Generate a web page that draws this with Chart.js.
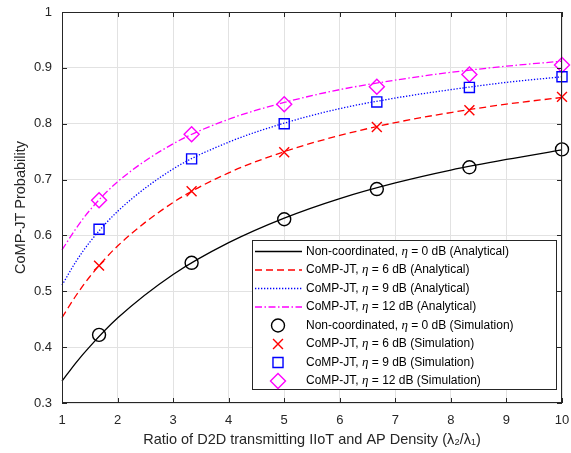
<!DOCTYPE html>
<html>
<head>
<meta charset="utf-8">
<script src="https://cdn.jsdelivr.net/npm/chart.js@4.4.1/dist/chart.umd.min.js"></script>
<style>
  html, body { margin: 0; padding: 0; background: #fff; }
  #wrap { width: 571px; height: 453px; }
</style>
</head>
<body>
<div id="wrap"><canvas id="probChart" width="571" height="453"></canvas></div>
<script>
const ratioAnalytical = [1, 1.25, 1.5, 2, 3, 4, 5, 6, 7, 8, 9, 10];
const nonCoordAnalytical = [0.339, 0.372, 0.401, 0.452, 0.530, 0.587, 0.631, 0.666, 0.694, 0.717, 0.736, 0.753];
const comp6Analytical = [0.453, 0.492, 0.526, 0.581, 0.659, 0.712, 0.750, 0.779, 0.802, 0.820, 0.835, 0.847];
const comp9Analytical = [0.511, 0.553, 0.588, 0.643, 0.719, 0.767, 0.801, 0.827, 0.846, 0.861, 0.874, 0.884];
const comp12Analytical = [0.574, 0.612, 0.645, 0.696, 0.764, 0.808, 0.838, 0.861, 0.878, 0.892, 0.903, 0.912];

// simulation points
const ratioSim = [1.667, 3.333, 5, 6.667, 8.333, 10];
const nonCoordSim = [0.422, 0.551, 0.629, 0.683, 0.722, 0.754];
const comp6Sim = [0.546, 0.679, 0.749, 0.794, 0.824, 0.848];
const comp9Sim = [0.611, 0.737, 0.800, 0.839, 0.865, 0.884];
const comp12Sim = [0.663, 0.781, 0.835, 0.866, 0.888, 0.905];

const xTicks = [1, 2, 3, 4, 5, 6, 7, 8, 9, 10];
const xTickLabels = ['1', '2', '3', '4', '5', '6', '7', '8', '9', '10'];
const yTicks = [0.3, 0.4, 0.5, 0.6, 0.7, 0.8, 0.9, 1];
const yTickLabels = ['0.3', '0.4', '0.5', '0.6', '0.7', '0.8', '0.9', '1'];

// legend text split around the italic eta
const legendLabels = [
    ['Non-coordinated, ', ' = 0 dB (Analytical)'],
    ['CoMP-JT, ', ' = 6 dB (Analytical)'],
    ['CoMP-JT, ', ' = 9 dB (Analytical)'],
    ['CoMP-JT, ', ' = 12 dB (Analytical)'],
    ['Non-coordinated, ', ' = 0 dB (Simulation)'],
    ['CoMP-JT, ', ' = 6 dB (Simulation)'],
    ['CoMP-JT, ', ' = 9 dB (Simulation)'],
    ['CoMP-JT, ', ' = 12 dB (Simulation)']
];

const FONT = '"Liberation Sans", Arial, Helvetica, sans-serif';
const AXIS = '#262626';

function pts(xs, ys) {
    return xs.map((x, i) => ({ x: x, y: ys[i] }));
}

function curve(values, color, dash) {
    return {
        showLine: true,
        data: pts(ratioAnalytical, values),
        borderColor: color,
        borderWidth: 1.3,
        borderDash: dash,
        pointRadius: 0,
        cubicInterpolationMode: 'monotone',
        fill: false,
        clip: false
    };
}

function markers(values, color, style, radius) {
    return {
        showLine: false,
        data: pts(ratioSim, values),
        borderColor: color,
        backgroundColor: 'rgba(0,0,0,0)',
        pointStyle: style,
        pointRadius: radius,
        pointBorderWidth: 1.4,
        pointBorderColor: color,
        pointBackgroundColor: 'rgba(0,0,0,0)',
        clip: false
    };
}

// box with inward ticks (matlab style) plus the legend inside the plot
const frameAndLegend = {
    id: 'frameAndLegend',
    afterDraw(chart) {
        const { ctx, chartArea: a, scales } = chart;
        const xs = scales.x, ys = scales.y;
        ctx.save();
        ctx.strokeStyle = AXIS;
        ctx.lineWidth = 1;
        ctx.setLineDash([]);
        ctx.strokeRect(a.left + 0.5, a.top + 0.5, a.right - a.left - 1, a.bottom - a.top - 1);
        ctx.beginPath();
        xTicks.forEach(v => {
            const px = Math.round(xs.getPixelForValue(v)) + 0.5;
            ctx.moveTo(px, a.bottom); ctx.lineTo(px, a.bottom - 5);
            ctx.moveTo(px, a.top); ctx.lineTo(px, a.top + 5);
        });
        yTicks.forEach(v => {
            const py = Math.round(ys.getPixelForValue(v)) + 0.5;
            ctx.moveTo(a.left, py); ctx.lineTo(a.left + 5, py);
            ctx.moveTo(a.right, py); ctx.lineTo(a.right - 5, py);
        });
        ctx.stroke();

        // legend
        const box = { left: a.left + 190, top: a.bottom - 163, right: a.right - 6, bottom: a.bottom - 14 };
        ctx.fillStyle = '#fff';
        ctx.fillRect(box.left, box.top, box.right - box.left, box.bottom - box.top);
        ctx.strokeStyle = AXIS;
        ctx.strokeRect(box.left + 0.5, box.top + 0.5, box.right - box.left, box.bottom - box.top);

        const sets = chart.data.datasets;
        legendLabels.forEach((parts, i) => {
            const cy = box.top + 11.5 + i * 18.5;
            const ds = sets[i];
            ctx.save();
            if (i < 4) {
                ctx.strokeStyle = ds.borderColor;
                ctx.lineWidth = ds.borderWidth;
                ctx.setLineDash(ds.borderDash || []);
                ctx.beginPath();
                ctx.moveTo(box.left + 3, cy);
                ctx.lineTo(box.left + 50, cy);
                ctx.stroke();
            } else {
                ctx.strokeStyle = ds.pointBorderColor;
                ctx.fillStyle = 'rgba(0,0,0,0)';
                ctx.lineWidth = ds.pointBorderWidth;
                Chart.helpers.drawPoint(ctx, {
                    pointStyle: ds.pointStyle,
                    radius: ds.pointRadius,
                    rotation: 0,
                    borderWidth: ds.pointBorderWidth
                }, box.left + 26, cy);
            }
            ctx.restore();

            let tx = box.left + 54;
            ctx.fillStyle = '#000';
            ctx.textBaseline = 'middle';
            ctx.textAlign = 'left';
            ctx.font = '12px ' + FONT;
            ctx.fillText(parts[0], tx, cy);
            tx += ctx.measureText(parts[0]).width;
            ctx.font = 'italic 13px "Liberation Serif", serif';
            ctx.fillText('\u03b7', tx, cy);
            tx += ctx.measureText('\u03b7').width;
            ctx.font = '12px ' + FONT;
            ctx.fillText(parts[1], tx, cy);
        });
        ctx.restore();
    }
};

const ctx = document.getElementById('probChart').getContext('2d');
new Chart(ctx, {
    type: 'scatter',
    data: {
        datasets: [
            curve(nonCoordAnalytical, '#000000', []),
            curve(comp6Analytical, '#ff0000', [7, 4]),
            curve(comp9Analytical, '#0000ff', [1.3, 1.7]),
            curve(comp12Analytical, '#ff00ff', [7, 2.5, 1.5, 2.5]),
            markers(nonCoordSim, '#000000', 'circle', 6.5),
            markers(comp6Sim, '#ff0000', 'crossRot', 7),
            markers(comp9Sim, '#0000ff', 'rect', 7.1),
            markers(comp12Sim, '#ff00ff', 'rectRot', 7.5)
        ]
    },
    options: {
        responsive: false,
        animation: false,
        layout: { padding: { top: 12, right: 9, left: 0, bottom: 0 } },
        plugins: {
            legend: { display: false },
            tooltip: { enabled: false }
        },
        scales: {
            x: {
                type: 'linear',
                min: 1,
                max: 10,
                afterBuildTicks: s => { s.ticks = xTicks.map(v => ({ value: v })); },
                afterFit: s => {
                    s.height = 50;
                    s.paddingLeft = 0;
                    s.paddingRight = 0;
                },
                ticks: {
                    autoSkip: false,
                    maxRotation: 0,
                    padding: 10,
                    color: AXIS,
                    font: { family: FONT, size: 13 },
                    callback: (v, i) => xTickLabels[i]
                },
                grid: { color: '#e2e2e2', drawTicks: false },
                border: { display: false },
                title: {
                    display: true,
                    text: 'Ratio of D2D transmitting IIoT and AP Density (\u03bb\u2082/\u03bb\u2081)',
                    color: AXIS,
                    font: { family: FONT, size: 14.5 },
                    padding: { top: 0, bottom: 4 }
                }
            },
            y: {
                type: 'linear',
                min: 0.3,
                max: 1,
                afterBuildTicks: s => { s.ticks = yTicks.map(v => ({ value: v })); },
                afterFit: s => {
                    s.width = 62;
                    s.paddingTop = 0;
                    s.paddingBottom = 0;
                },
                ticks: {
                    autoSkip: false,
                    padding: 10,
                    color: AXIS,
                    font: { family: FONT, size: 13 },
                    callback: (v, i) => yTickLabels[i]
                },
                grid: { color: '#e2e2e2', drawTicks: false },
                border: { display: false },
                title: {
                    display: true,
                    text: 'CoMP-JT Probability',
                    color: AXIS,
                    font: { family: FONT, size: 14.5 },
                    padding: { top: 12, bottom: 0 }
                }
            }
        }
    },
    plugins: [frameAndLegend]
});
</script>
</body>
</html>
